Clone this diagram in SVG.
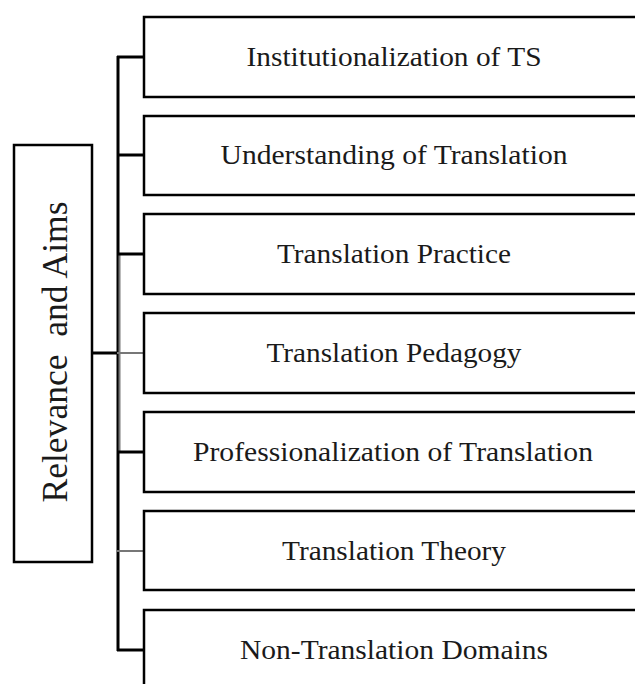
<svg xmlns="http://www.w3.org/2000/svg" width="635" height="684" viewBox="0 0 635 684">
<style>
.box{fill:#fff;stroke:#000;stroke-width:2.5}
.lbl{font-family:'Liberation Serif','Times New Roman',Times,serif;font-size:28px;fill:#1a1a1a;text-anchor:middle}
.main{font-family:'Liberation Serif','Times New Roman',Times,serif;font-size:36px;fill:#1a1a1a;text-anchor:middle}
.con{stroke:#000;stroke-width:3;fill:none}
.gray{stroke:#777;stroke-width:2;fill:none}
</style>
<rect width="635" height="684" fill="#fff"/>
<g id="connectors">
<line class="con" x1="118" y1="56" x2="118" y2="651"/>
<line class="gray" x1="119.5" y1="254" x2="119.5" y2="452"/>
<line class="con" x1="92" y1="353" x2="118" y2="353"/>
<line class="con" x1="117" y1="57" x2="144" y2="57"/>
<line class="con" x1="117" y1="155" x2="144" y2="155"/>
<line class="con" x1="117" y1="254" x2="144" y2="254"/>
<line class="gray" x1="117" y1="353" x2="144" y2="353"/>
<line class="con" x1="117" y1="452" x2="144" y2="452"/>
<line class="gray" x1="117" y1="551" x2="144" y2="551"/>
<line class="con" x1="117" y1="650" x2="144" y2="650"/>
</g>
<g id="root">
<rect class="box" x="14" y="145" width="78" height="417" stroke-width="3"/>
<text class="main" transform="translate(67,352) rotate(-90)" textLength="301" lengthAdjust="spacingAndGlyphs">Relevance&#160; and Aims</text>
</g>
<g id="n1">
<rect class="box" x="144" y="17" width="500" height="80"/>
<text class="lbl" x="394" y="66" textLength="295" lengthAdjust="spacingAndGlyphs">Institutionalization of TS</text>
</g>
<g id="n2">
<rect class="box" x="144" y="116" width="500" height="79"/>
<text class="lbl" x="394" y="164" textLength="347" lengthAdjust="spacingAndGlyphs">Understanding of Translation</text>
</g>
<g id="n3">
<rect class="box" x="144" y="214" width="500" height="80"/>
<text class="lbl" x="394" y="263" textLength="234" lengthAdjust="spacingAndGlyphs">Translation Practice</text>
</g>
<g id="n4">
<rect class="box" x="144" y="313" width="500" height="80"/>
<text class="lbl" x="394" y="362" textLength="255" lengthAdjust="spacingAndGlyphs">Translation Pedagogy</text>
</g>
<g id="n5">
<rect class="box" x="144" y="412" width="500" height="80"/>
<text class="lbl" x="393" y="461" textLength="400" lengthAdjust="spacingAndGlyphs">Professionalization of Translation</text>
</g>
<g id="n6">
<rect class="box" x="144" y="511" width="500" height="79"/>
<text class="lbl" x="394" y="560" textLength="224" lengthAdjust="spacingAndGlyphs">Translation Theory</text>
</g>
<g id="n7">
<rect class="box" x="144" y="610" width="500" height="90"/>
<text class="lbl" x="394" y="659" textLength="308" lengthAdjust="spacingAndGlyphs">Non-Translation Domains</text>
</g>
</svg>
